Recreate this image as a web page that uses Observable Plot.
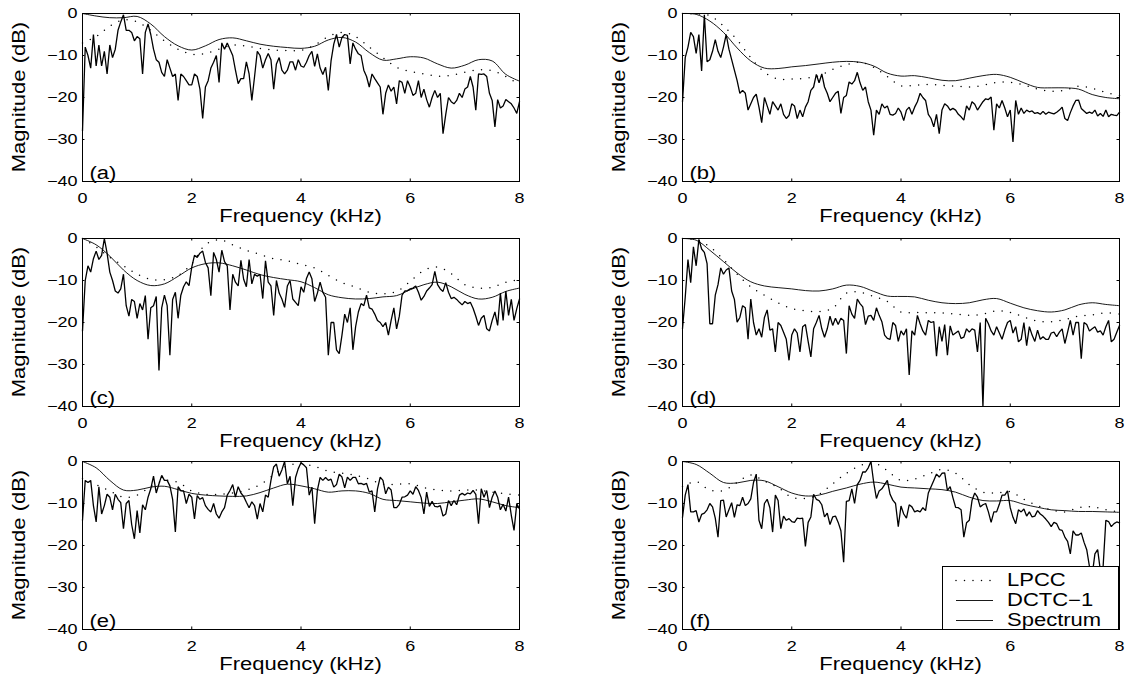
<!DOCTYPE html>
<html>
<head>
<meta charset="utf-8">
<script src="https://cdn.jsdelivr.net/npm/d3@7"></script>
<script src="https://cdn.jsdelivr.net/npm/@observablehq/plot@0.6"></script>
<style>
  html, body { margin: 0; padding: 0; background: #fff; }
  #fig { position: relative; width: 1131px; height: 683px; overflow: hidden; background: #fff;
         font-family: "Liberation Sans", Arial, Helvetica, sans-serif; color: #000; }
  .panel { position: absolute; }
  .panel svg { max-width: none !important; display: block; }
  .lbl { position: absolute; font-size: 22px; line-height: 1; white-space: nowrap; }
  #legend { position: absolute; background: #fff; border: 1px solid #000; box-sizing: border-box; }
</style>
</head>
<body>
<div id="fig"></div>
<script>
// ---------- data (magnitudes in dB) ----------
// spectra sampled every 0.05 kHz from 0 to 8 kHz (161 values)
const specA = [
-28,-8,-10,-13,-5,-12.5,-7.5,-12.5,-9,-14.4,
-7.5,-10.5,-8.5,-4,-2,-0.3,-4,-4,-4.5,-6.5,
-5.5,-6,-14.4,-4.5,-2.5,-5,-8.5,-11,-11.6,-14,
-15,-11,-13,-15,-14.4,-20.7,-14.4,-15,-16,-17,
-17,-14.4,-15,-18,-25,-17.5,-16,-13,-11.6,-10,
-16.4,-7,-8.5,-7,-8.5,-10,-13.5,-16.7,-15.5,-15.5,
-11.5,-14.4,-20.7,-15,-9,-10,-13,-11,-9.5,-11,
-18,-12,-10.5,-13.5,-14.4,-13.5,-11.5,-11.5,-13.5,-11,
-12.5,
-12.8,-11.6,-10,-9,-12.6,-9.6,-13,-14.5,-12.8,-18.3,
-11.3,-7.3,-5,-8,-5.7,-5,-5.2,-12,-7,-8.5,
-9.6,-10,-13.5,-15,-17.5,-14.4,-15.5,-16.5,-17.5,-24,
-19,-17,-18.5,-17.5,-21.5,-16,-16.4,-19,-16,-17.5,
-19.5,-19,-16,-20,-18,-20.5,-22.3,-20,-18.3,-20,
-19,-28.6,-24,-20,-21,-21.5,-20.7,-19,-20,-18,
-17.5,-15,-17.5,-23,-14.4,-14.5,-14.4,-15,-19,-20.7,
-27,-20.5,-22.5,-22,-20.5,-21,-21.5,-22.5,-23.8,-21];
const specB = [
-21,-10.5,-8,-4.5,-5.5,-9.5,-5,-13.7,-0.3,-11.5,
-11,-9,-6.2,-9,-10.5,-8,-5,-8.5,-11,-13.5,
-16,-19,-18.3,-19,-23,-21.5,-20,-19.2,-22.3,-26,
-20,-22,-24,-21,-22,-23,-21.5,-24,-25,-24.3,
-21.5,-22,-25,-23,-24.6,-22.3,-21,-18.3,-17.5,-14.5,
-16.5,-14.4,-17.5,-19,-21,-20,-19,-18.5,-23.8,-20,
-19.5,-16.3,-16.8,-16,-14,-16.5,-18.3,-17.5,-21,-23,
-29,-23,-24,-21.5,-22.5,-22,-24,-24.2,-23.8,-22.5,
-23.5,
-25.5,-23,-22.3,-24,-22.3,-21,-19,-20,-20.7,-24,
-25,-27,-24,-28.6,-23,-21.5,-22,-23,-22.6,-23,
-24,-24.6,-25.4,-22,-23,-21,-21.6,-23,-22,-21,
-20.3,-20.5,-19.9,-27.8,-21.5,-22.5,-20.7,-22.5,-24.6,-23,
-30.6,-20.7,-24,-22.5,-23.8,-23,-23.4,-23.2,-23.8,-23.6,
-24,-23.3,-24,-23.5,-23.7,-23.9,-23.5,-23,-22.3,-25,
-25.5,-23.6,-22,-20.7,-20.6,-22.6,-23.2,-23.8,-23.5,-23.8,
-23,-24.4,-23.8,-24.5,-23,-24.6,-24,-24.2,-24.3,-23.5];
const specC = [
-22,-10,-6.5,-8,-4.8,-3,-5,-4,0,-3.5,
-8,-10,-12.5,-13,-12,-8.5,-16,-18.5,-14.5,-15,
-19,-15.5,-17,-13.6,-24,-16.5,-16,-13.8,-31.4,-16.5,
-13.5,-16,-27.8,-14.5,-12.8,-19,-13.5,-11.5,-10.3,-11.2,
-6.8,-4,-4.5,-3.5,-3,-5.7,-7,-13.6,-3.3,-5,
-8,-2.8,-5.5,-6.5,-17,-8.5,-10.4,-11.3,-5.2,-9.7,
-11.5,-5,-10.8,-8.5,-9,-8.5,-14.3,-5.3,-10.4,-11.3,
-18.3,-10,-13,-14.4,-16.4,-11.3,-10,-14.4,-15.2,-16,
-11.5,
-12.8,-9.5,-8,-9.6,-15,-13,-10.4,-12.8,-14,-27.8,
-20,-20,-26.5,-27.4,-23,-18,-20,-16.5,-26.5,-21,
-17.5,-15.5,-16,-13.5,-16.5,-16.8,-18,-19.5,-20,-21,
-20,-23,-19.5,-16.5,-21.5,-18.5,-13.5,-12.5,-12.4,-12,
-11.8,-11.3,-12.8,-14.7,-13.8,-12.5,-11.8,-11,-7.8,-11,
-12,-12.6,-10.5,-12.8,-14.3,-14,-14.5,-15.2,-15.8,-15,
-15.5,-15.2,-16.6,-18.5,-20.7,-19,-18.3,-21.5,-22,-19.5,
-17.5,-20.7,-13,-19.5,-12.5,-18.3,-14.5,-19.5,-16.7,-14.4];
const specD = [
-21.5,-14,-5,-10.5,-2,-6.5,-0.2,-2.5,-3.3,-6,
-20.3,-20.3,-13.5,-11,-7,-8.5,-7.5,-7,-12.5,-14.5,
-19.9,-18.8,-16,-16.5,-24,-14.4,-20,-23,-21.5,-23.5,
-18.8,-17,-21.8,-21.5,-27,-20,-20.7,-22.3,-24,-29,
-23,-21.5,-22.5,-27,-21,-20.5,-24.5,-28.2,-21.5,-20,
-18.3,-21.5,-23.5,-21.5,-18.5,-20.7,-19,-20.5,-19,-19.5,
-27.4,-16,-18,-19,-14.4,-15.5,-16.3,-20.5,-18.5,-18.3,
-19.5,-16.5,-18.3,-19.8,-23,-23.8,-24,-20,-20.7,-24.5,
-22,
-23,-21.5,-32.5,-22,-23,-18.3,-20.3,-22,-23,-19.5,
-20,-19.8,-28,-21,-24.5,-20.5,-27.8,-20.8,-23,-22.5,
-22,-23.8,-23.5,-21.5,-22.3,-21.5,-21.8,-27,-20,-40,
-19,-20.3,-22,-23,-21,-22.5,-24,-21.8,-20,-19.5,
-22.5,-21,-24.6,-24,-20,-25.5,-21,-23,-24.5,-21.8,
-24,-23.4,-24,-24,-22.5,-22.3,-23.4,-22.3,-21.5,-25,
-22.3,-19.5,-23,-20,-20,-28.6,-20,-20.5,-22,-21.5,
-21,-22.3,-22,-23,-21,-19.5,-24.6,-24,-22.3,-20.7];
const specE = [
-14,-4.5,-5,-4.5,-10.5,-14.4,-6,-12.5,-10.5,-7.8,
-8.5,-11.5,-7.8,-9,-9.8,-16,-10,-9.3,-15,-18.4,
-11.7,-17,-10.3,-11.5,-8.5,-6.5,-3.5,-7.5,-5.3,-3.3,
-4.5,-4.5,-5.8,-9,-16.8,-6,-7,-7,-10,-7.8,
-8.5,-13.7,-8.1,-9,-8.6,-10.5,-11.4,-12,-10,-12.5,
-13.5,-12,-11,-8,-6.9,-5.5,-8.5,-6,-7.5,-8.3,
-9.7,-11,-9.6,-10.5,-13.7,-10,-12,-8,-8.5,-4.5,
-1.3,-0.6,-3.5,-2,0,-5.3,-3.5,-10.5,-3.8,-1.7,
-0.3,
-0.8,-1.5,-8,-6.1,-14.8,-6.8,-3.8,-4.5,-3.8,-4.5,
-4.2,-6.1,-5.5,-3,-3.7,-6.3,-3.7,-4.5,-3.8,-3.8,
-5.3,-5.2,-5.5,-5.2,-7.3,-7,-12,-6.5,-3.7,-4.5,
-7.7,-6.1,-6.8,-11,-11,-10.2,-8.5,-8.4,-8,-7,
-7.8,-6,-6.9,-8.6,-12.5,-7.3,-10.7,-9.5,-10.7,-10.8,
-10.5,-13,-12.5,-9.3,-10.5,-9.3,-10.3,-8,-7.6,-8,
-7.5,-7.7,-6.9,-7.8,-14.8,-6.5,-8.5,-6.9,-11,-8.5,
-7,-8.5,-11.5,-10.2,-11.8,-8.5,-12.8,-16.4,-10.1,-11.3];
const specF = [
-13.3,-8,-5.5,-12,-12,-11.7,-14.4,-12.6,-12.3,-11.5,
-10,-10.8,-13.5,-18,-9.3,-9.2,-13.2,-11.5,-9.8,-13.3,
-10.3,-10.5,-8.5,-10.5,-10,-8.9,-5,-3,-14,-16,
-10,-9,-11,-16.8,-8,-9.3,-16,-13,-14,-13.6,
-14.3,-14.5,-13.5,-13.6,-13.5,-20.2,-14.5,-13.2,-7.8,-9,
-9.3,-10.3,-13.2,-12.3,-15,-13.2,-13,-14.5,-16.5,-24,
-9.5,-9.3,-6.5,-10,-5.5,-4.5,-2.5,-2.5,-1.5,0,
-5,-8.8,-7,-6.5,-5.5,-4.5,-7.8,-9.2,-10,-15.5,
-10.6,
-12.5,-13.5,-10.3,-10.8,-12,-11.7,-12,-11,-11.7,-7.5,
-6,-4.5,-3,-3.7,-2.8,-2.7,-6.9,-6,-8.6,-10.9,
-11,-11.5,-18,-14.6,-14,-9.3,-7.5,-8.5,-10.8,-10.3,
-10,-12,-14.5,-12,-12,-10.2,-8,-8,-7,-11,
-13.3,-14.8,-11.5,-12,-11.3,-13,-12,-13.2,-13,-11.7,
-12.5,-13,-13.7,-14.5,-15.5,-14.5,-14.8,-16.2,-16.4,-18,
-19,-22,-16.5,-17.5,-17.5,-17,-19.2,-21,-25,-27,
-22,-21,-26,-25,-14,-14.3,-15.5,-14.8,-14.4,-14.6];

// smooth envelopes sampled every 0.25 kHz (33 values)
const dctcA = [0,-0.6,-1,-1,-0.7,-2.5,-5.5,-7.7,-8.7,-7.7,-6.2,-5.8,-6.5,-7.3,-7.8,-8.1,-8.3,-7.8,-6.3,-5.7,-6.8,-9.3,-11.1,-10.8,-10.3,-10.6,-12,-13,-12.3,-11,-11.3,-14.5,-16.1];
const lpccA = [-7,-5.5,-3,-1.5,-2,-4,-6.5,-8.5,-9.7,-9.5,-8.5,-7.5,-7.8,-8.3,-8.7,-8.8,-8.8,-7.5,-5.5,-4.5,-5.5,-8,-10.5,-12.8,-13.8,-14.4,-14.9,-14.7,-14,-13.4,-13.6,-15,-17];
const dctcB = [0,-0.2,-1.8,-4.5,-8.2,-11.3,-13,-13.1,-12.7,-12.4,-12,-11.6,-11.4,-11.6,-12.5,-14.2,-14.9,-14.8,-15.3,-15.9,-16,-15.4,-14.8,-14.5,-15.2,-16.5,-17.6,-17.7,-17.7,-18,-19.3,-20,-20.3];
const lpccB = [0,-0.1,-0.5,-3,-6.3,-10.5,-14,-15.6,-15.6,-15.4,-14.8,-13.3,-12.2,-11.6,-12.8,-15,-17.2,-17.1,-16.9,-17.1,-17.3,-17.5,-17.1,-16.4,-16.4,-17,-18,-18.5,-18.3,-17.3,-17.8,-18.8,-19.5];
const dctcC = [0,-1.5,-4.2,-7.5,-10,-11.2,-10.8,-9,-7,-6,-5.8,-6.5,-7.5,-8.6,-9.3,-9.8,-10.3,-11.7,-13.4,-14.1,-14.4,-14.3,-13.9,-13.6,-12.2,-11,-10.4,-11.5,-13.3,-14.4,-14,-12.6,-11.8];
const lpccC = [0,-2,-4.5,-6.5,-8.5,-9.7,-9.8,-8.8,-6,-1.5,-0.3,-1.5,-2.8,-3.8,-4.8,-5.3,-6.2,-7,-8.8,-10.5,-11.6,-12.8,-13.2,-12.6,-10.2,-7.6,-6.8,-8.4,-11,-11.8,-11.6,-10.4,-9.8];
const dctcD = [0,-0.4,-2.8,-5.5,-8.2,-10.3,-11.3,-11.7,-12,-12.4,-12.5,-12,-11.1,-11.4,-12.6,-13.7,-13.8,-13.9,-14.7,-15.3,-15.5,-15.3,-14.6,-14.3,-15.4,-16.5,-17.2,-17.5,-17,-15.8,-15.3,-15.7,-16];
const lpccD = [0,-0.3,-2,-5,-8.5,-11.5,-13.5,-15.3,-16.7,-17.2,-17.4,-16.6,-13,-12.8,-13.8,-15,-17.5,-17.6,-17.7,-17.7,-18,-18.3,-18,-17.2,-17.6,-18.7,-19.7,-19.8,-19.3,-18.5,-18.2,-17.7,-18];
const dctcE = [0,-1.5,-4.5,-6.8,-6.8,-6.1,-5.9,-6.7,-7.6,-8,-8.2,-8.3,-8.2,-7.4,-6.3,-5.4,-5.8,-6.5,-7.3,-7,-7,-7.6,-9,-9.3,-9.6,-9.9,-10,-9.6,-9.2,-8.9,-9.6,-10.5,-11];
const lpccE = [-4,-5.5,-7,-8.5,-8,-6,-4.5,-5,-7,-7.8,-7.8,-7.5,-6.8,-5.5,-3.2,-1,-0.5,-1.2,-2.3,-2.8,-3.3,-4.2,-5.4,-5.4,-5.3,-6.2,-6.8,-7,-6.8,-6.8,-7.3,-7.7,-8];
const dctcF = [0,-0.7,-2.8,-5,-5.1,-4.5,-4.6,-6,-7.5,-8.2,-8,-7.1,-6.3,-5.4,-4.9,-5.4,-6.1,-6.3,-6.5,-6.7,-7.3,-8.5,-9.3,-9.4,-9.3,-10.2,-10.9,-11.5,-11.7,-11.9,-11.9,-12,-12.1];
const lpccF = [-6,-4.8,-6.8,-6.9,-5,-3.2,-4.7,-6.2,-8.5,-8.8,-7.8,-5.3,-2.8,-1,-0.3,-2.2,-4.5,-4.2,-3,-1.9,-2.8,-5.5,-7.3,-7.5,-7.2,-9,-10.5,-11.5,-12,-11,-10.8,-11.5,-12];

const panelLabels = ["(a)", "(b)", "(c)", "(d)", "(e)", "(f)"];
const xTicks = [0, 2, 4, 6, 8];
const yTicks = [-40, -30, -20, -10, 0];
const xLabel = "Frequency (kHz)";
const yLabel = "Magnitude (dB)";
const legendLabels = ["LPCC", "DCTC\u22121", "Spectrum"];
const specStep = 0.05;   // kHz between spectrum samples
const smoothStep = 0.25; // kHz between envelope samples

// ---------- layout ----------
const Q = 0.8;           // glyph height squash (reference text is wide)
const FONT = 22;         // labels, legend, panel tags
const TICKFONT = 18;     // tick labels
const W = 560, H = 224, mL = 82, mR = 41, mT = 13, mB = 43;
const colX = [0, 600], rowY = [0, 225, 448];
const panels = [
  {spec: specA, dctc: dctcA, lpcc: lpccA},
  {spec: specB, dctc: dctcB, lpcc: lpccB},
  {spec: specC, dctc: dctcC, lpcc: lpccC},
  {spec: specD, dctc: dctcD, lpcc: lpccD},
  {spec: specE, dctc: dctcE, lpcc: lpccE},
  {spec: specF, dctc: dctcF, lpcc: lpccF}
];
const fmt = d => d < 0 ? "\u2212" + (-d) : String(d);
const fig = document.getElementById("fig");

function squashText(root, q) {
  root.querySelectorAll("text").forEach(t => {
    const g = document.createElementNS("http://www.w3.org/2000/svg", "g");
    const tr = t.getAttribute("transform") || "";
    const xa = t.getAttribute("x"), ya = t.getAttribute("y");
    let tx = 0, ty = 0;
    if (xa && /^-?[\d.]+$/.test(xa)) { tx = +xa; t.removeAttribute("x"); }
    if (ya && /^-?[\d.]+$/.test(ya)) { ty = +ya; t.removeAttribute("y"); }
    g.setAttribute("transform", `${tr} translate(${tx},${ty})`);
    t.parentNode.insertBefore(g, t);
    g.appendChild(t);
    t.setAttribute("transform", `scale(1,${q})`);
  });
}

const tlX = 0.045, tlY = 0.6; // inward tick lengths in data units

panels.forEach((p, k) => {
  const col = k % 2, row = Math.floor(k / 2);
  const specData = p.spec.map((v, i) => ({f: i * specStep, v}));
  const dctcData = p.dctc.map((v, i) => ({f: i * smoothStep, v}));
  const lpccData = p.lpcc.map((v, i) => ({f: i * smoothStep, v}));
  const svg = Plot.plot({
    width: W, height: H,
    marginLeft: mL, marginRight: mR, marginTop: mT, marginBottom: mB,
    style: {fontFamily: '"Liberation Sans", Arial, sans-serif', fontSize: TICKFONT + "px", color: "#000", background: "transparent", overflow: "visible", maxWidth: "none"},
    x: {domain: [0, 8], ticks: xTicks, tickSize: 0, tickPadding: 11, tickFormat: d => String(d), label: null},
    y: {domain: [-40, 0], ticks: yTicks, tickSize: 0, tickPadding: 5, tickFormat: fmt, label: null},
    marks: [
      Plot.line(specData, {x: "f", y: "v", stroke: "#000", strokeWidth: 1.3, strokeLinejoin: "miter"}),
      Plot.line(dctcData, {x: "f", y: "v", curve: "catmull-rom", stroke: "#000", strokeWidth: 0.9}),
      Plot.line(lpccData, {x: "f", y: "v", curve: "catmull-rom", stroke: "#000", strokeWidth: 1.5, strokeDasharray: "0 8.5", strokeLinecap: "round"}),
      Plot.ruleX(xTicks, {x: d => d, y1: -40, y2: -40 + tlY, stroke: "#000"}),
      Plot.ruleX(xTicks, {x: d => d, y1: -tlY, y2: 0, stroke: "#000"}),
      Plot.ruleY(yTicks, {y: d => d, x1: 0, x2: tlX, stroke: "#000"}),
      Plot.ruleY(yTicks, {y: d => d, x1: 8 - tlX, x2: 8, stroke: "#000"}),
      Plot.frame({stroke: "#000", strokeWidth: 1}),
      Plot.text([panelLabels[k]], {frameAnchor: "bottom-left", textAnchor: "start", lineAnchor: "bottom", dx: 7, dy: -3, fontSize: FONT, fill: "#000"})
    ]
  });
  squashText(svg, Q);
  svg.style.maxWidth = "none";
  const wrap = document.createElement("div");
  wrap.className = "panel";
  wrap.style.left = colX[col] + "px";
  wrap.style.top = rowY[row] + "px";
  wrap.style.width = W + "px";
  wrap.style.height = H + "px";
  wrap.appendChild(svg);
  fig.appendChild(wrap);

  const xl = document.createElement("div");
  xl.className = "lbl";
  xl.textContent = xLabel;
  xl.style.left = (colX[col] + mL + (W - mL - mR) / 2) + "px";
  xl.style.top = (rowY[row] + H - mB + 35) + "px";
  xl.style.transform = `translate(-50%,-50%) scale(1,${Q})`;
  fig.appendChild(xl);

  const yl = document.createElement("div");
  yl.className = "lbl";
  yl.textContent = yLabel;
  yl.style.left = (colX[col] + 19) + "px";
  yl.style.top = (rowY[row] + mT + (H - mT - mB) / 2) + "px";
  yl.style.transform = `translate(-50%,-50%) rotate(-90deg) scale(1,${Q})`;
  fig.appendChild(yl);
});

// ---------- legend (inside panel f) ----------
const leg = document.createElement("div");
leg.id = "legend";
leg.style.left = "942px"; leg.style.top = "566px";
leg.style.width = "177px"; leg.style.height = "64px";
const ns = "http://www.w3.org/2000/svg";
const ls = document.createElementNS(ns, "svg");
ls.setAttribute("width", 60); ls.setAttribute("height", 62);
ls.style.position = "absolute"; ls.style.left = "0px"; ls.style.top = "0px";
const rowsY = [14, 34, 54];
legendLabels.forEach((lab, i) => {
  const ln = document.createElementNS(ns, "line");
  ln.setAttribute("x1", 13); ln.setAttribute("x2", 50);
  ln.setAttribute("y1", rowsY[i] - 0.5); ln.setAttribute("y2", rowsY[i] - 0.5);
  ln.setAttribute("stroke", "#000");
  if (i === 0) {
    ln.setAttribute("stroke-width", 1.5);
    ln.setAttribute("stroke-dasharray", "0 8.5");
    ln.setAttribute("stroke-linecap", "round");
  } else {
    ln.setAttribute("stroke-width", 0.9);
  }
  ls.appendChild(ln);
  const tx = document.createElement("div");
  tx.className = "lbl";
  tx.textContent = lab;
  tx.style.left = "64px";
  tx.style.top = (rowsY[i] - 1) + "px";
  tx.style.transform = `translate(0,-50%) scale(1,${Q})`;
  leg.appendChild(tx);
});
leg.appendChild(ls);
fig.appendChild(leg);
</script>
</body>
</html>
